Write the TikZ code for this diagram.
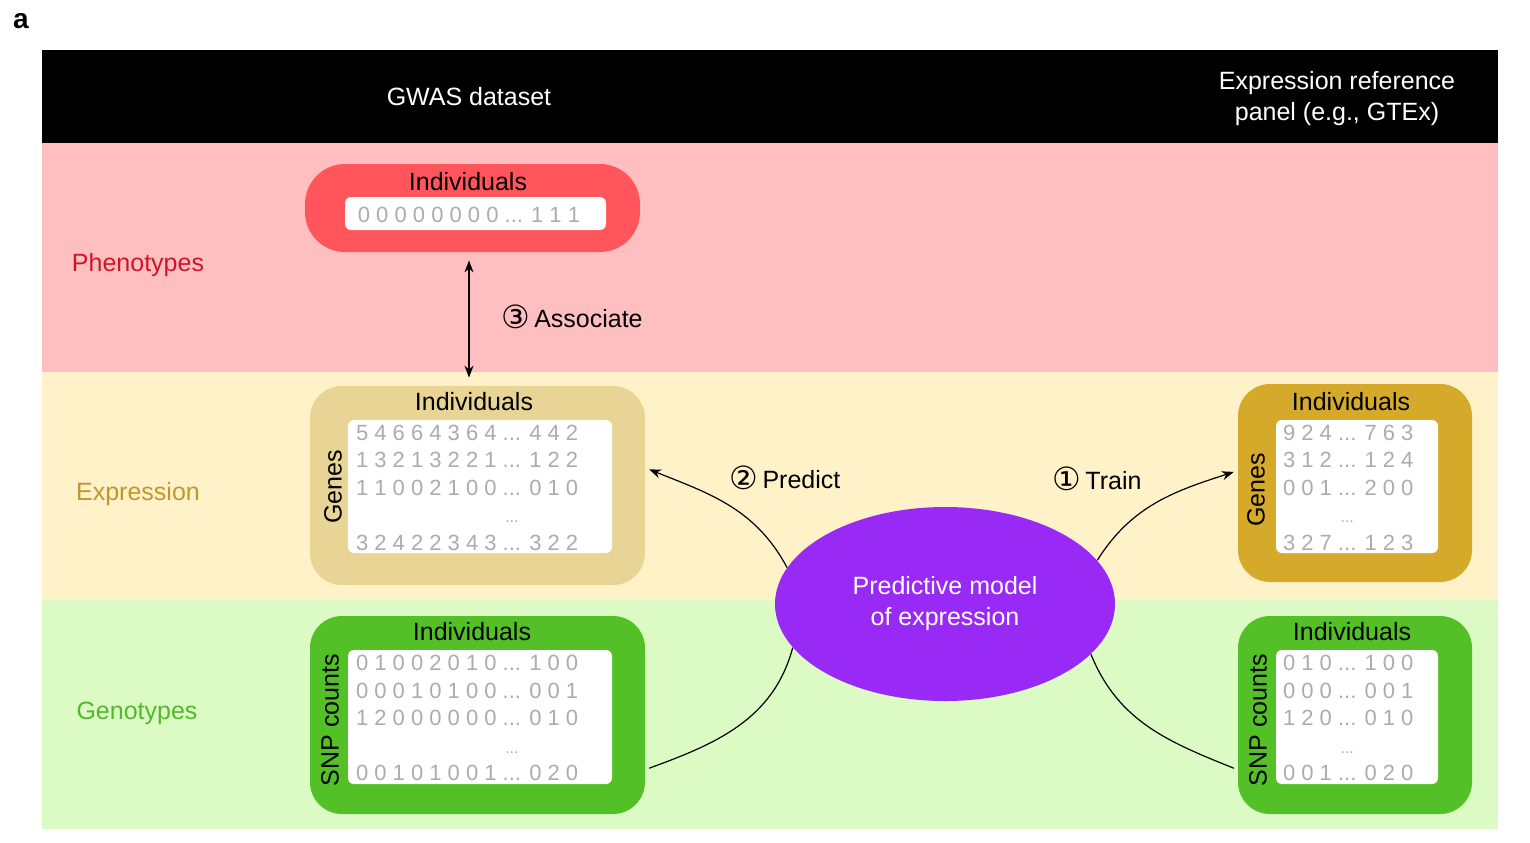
\documentclass[tikz,border=0pt]{standalone}
\usepackage{fontspec}
\setmainfont{Liberation Sans}
\newfontfamily\symfont{DejaVu Sans}
\usetikzlibrary{arrows.meta,positioning,shapes.geometric}
\definecolor{phenoband}{RGB}{255,190,191}
\definecolor{exprband}{RGB}{255,242,201}
\definecolor{genoband}{RGB}{220,251,196}
\definecolor{phenofill}{RGB}{255,85,91}
\definecolor{gexprfill}{RGB}{232,213,150}
\definecolor{rexprfill}{RGB}{213,170,42}
\definecolor{snpfill}{RGB}{84,192,40}
\definecolor{modelfill}{RGB}{153,41,245}
\definecolor{phenotext}{RGB}{205,22,42}
\definecolor{exprtext}{RGB}{195,150,45}
\definecolor{genotext}{RGB}{82,186,42}
\definecolor{cellgray}{RGB}{172,172,172}
\tikzset{
  lbl/.style={font=\fontsize{12.5}{15.5}\selectfont, inner sep=0pt},
  headlbl/.style={lbl, text=white, align=center},
  panelbox/.style={rounded corners=16pt, minimum width=167.5pt,
    minimum height=99.5pt, inner sep=0pt},
  smallpanel/.style={panelbox, minimum width=117pt},
  cellbox/.style={fill=white, rounded corners=3pt, inner sep=0pt,
    minimum width=132pt, minimum height=66.5pt},
  smallcells/.style={cellbox, minimum width=81pt},
  digits/.style={font=\fontsize{11}{13.75}\selectfont, text=cellgray,
    inner sep=0pt, anchor=west, yshift=-1.5pt},
  arrw/.style={-{Stealth[length=6pt,width=4.5pt]}, semithick},
  link/.style={semithick},
}
\newcommand{\dotsrow}{& {\footnotesize...} &}
\newcommand{\stepnum}[1]{{\symfont\fontsize{16}{16}\selectfont\raisebox{-0.5pt}{#1}}}
\begin{document}
\begin{tikzpicture}[x=0.5pt, y=-0.5pt]
  \useasboundingbox (0,0) rectangle (1530,842);

  % Header and bands
  \fill[black] (42,50) rectangle (1498,143);
  \fill[phenoband] (42,143) rectangle (1498,372);
  \fill[exprband] (42,372) rectangle (1498,600);
  \fill[genoband] (42,600) rectangle (1498,829);

  \node[font=\fontsize{14}{16}\selectfont\bfseries, inner sep=0pt] (tag) at (21,21) {a};
  \node[headlbl] (gwas) at (469,97) {GWAS dataset};
  \node[headlbl] (ref) at (1337,99) {Expression reference\\panel (e.g., GTEx)};

  \node[lbl, text=phenotext] (phenolbl) at (138,265) {Phenotypes};
  \node[lbl, text=exprtext] (exprlbl) at (138,494) {Expression};
  \node[lbl, text=genotext] (genolbl) at (137,713) {Genotypes};

  % Phenotypes
  \node[panelbox, fill=phenofill, minimum height=44pt, rounded corners=20pt] (pheno) at (472.5,208) {};
  \node[cellbox, minimum width=130.5pt, minimum height=16.5pt] (phenocells) at (475.5,213.5) {};
  \node[lbl] (phenoind) at (468,182) {Individuals};
  \node[digits, anchor=center, yshift=1pt] (phenodig) at (469,214) {0 0 0 0 0 0 0 0 ... 1 1 1};

  % GWAS expression
  \node[panelbox, fill=gexprfill] (gexpr) at (477.5,485.5) {};
  \node[cellbox] (gexprcells) at (480,486.5) {};
  \node[lbl] (gexprind) at (474,402) {Individuals};
  \node[lbl, rotate=90] (gexprgenes) at (333,487) {Genes};
  \node[digits] (gexprdig) at ([xshift=4pt]gexprcells.west)
    {\begin{tabular}{@{}l@{ }c@{ }l@{}}
      5 4 6 6 4 3 6 4 & ... & 4 4 2\\
      1 3 2 1 3 2 2 1 & ... & 1 2 2\\
      1 1 0 0 2 1 0 0 & ... & 0 1 0\\
      \dotsrow\\
      3 2 4 2 2 3 4 3 & ... & 3 2 2
    \end{tabular}};

  % GWAS genotypes
  \node[panelbox, fill=snpfill, minimum height=99pt] (gsnp) at (477.5,715) {};
  \node[cellbox, minimum height=67pt] (gsnpcells) at (480,717) {};
  \node[lbl] (gsnpind) at (472,632) {Individuals};
  \node[lbl, rotate=90] (gsnpcounts) at (330,720) {SNP counts};
  \node[digits] (gsnpdig) at ([xshift=4pt]gsnpcells.west)
    {\begin{tabular}{@{}l@{ }c@{ }l@{}}
      0 1 0 0 2 0 1 0 & ... & 1 0 0\\
      0 0 0 1 0 1 0 0 & ... & 0 0 1\\
      1 2 0 0 0 0 0 0 & ... & 0 1 0\\
      \dotsrow\\
      0 0 1 0 1 0 0 1 & ... & 0 2 0
    \end{tabular}};

  % Reference expression
  \node[smallpanel, fill=rexprfill, minimum height=99pt] (rexpr) at (1355,483) {};
  \node[smallcells] (rexprcells) at (1357,486.5) {};
  \node[lbl] (rexprind) at (1351,402) {Individuals};
  \node[lbl, rotate=90] (rexprgenes) at (1256,490) {Genes};
  \node[digits] (rexprdig) at ([xshift=3.5pt]rexprcells.west)
    {\begin{tabular}{@{}l@{ }c@{ }l@{}}
      9 2 4 & ... & 7 6 3\\
      3 1 2 & ... & 1 2 4\\
      0 0 1 & ... & 2 0 0\\
      \dotsrow\\
      3 2 7 & ... & 1 2 3
    \end{tabular}};

  % Reference genotypes
  \node[smallpanel, fill=snpfill, minimum height=99pt] (rsnp) at (1355,715) {};
  \node[smallcells, minimum height=67pt] (rsnpcells) at (1357,717) {};
  \node[lbl] (rsnpind) at (1352,632) {Individuals};
  \node[lbl, rotate=90] (rsnpcounts) at (1258,720) {SNP counts};
  \node[digits] (rsnpdig) at ([xshift=3.5pt]rsnpcells.west)
    {\begin{tabular}{@{}l@{ }c@{ }l@{}}
      0 1 0 & ... & 1 0 0\\
      0 0 0 & ... & 0 0 1\\
      1 2 0 & ... & 0 1 0\\
      \dotsrow\\
      0 0 1 & ... & 0 2 0
    \end{tabular}};

  % Model
  \node[ellipse, fill=modelfill, minimum width=170pt, minimum height=97pt,
        lbl, text=white, align=center] (model) at (945,604)
    {Predictive model\\of expression};

  % Connectors
  \draw[{Stealth[length=6pt,width=4.5pt]}-{Stealth[length=6pt,width=4.5pt]}, semithick,
        shorten <=4pt, shorten >=4pt] ([xshift=-1.75pt]pheno.south) -- ([xshift=-1.75pt]pheno.south |- gexpr.north);
  \node[lbl, anchor=west] (assoc) at (501,317) {\stepnum{③}\,Associate};

  \draw[arrw, shorten >=2pt] (model.167) to[out=118, in=-22] (gexpr.6);
  \node[lbl] (predict) at (785,478) {\stepnum{②}\,Predict};
  \draw[arrw, shorten >=2pt] (model.16) to[out=58, in=198] (rexpr.174);
  \node[lbl] (train) at (1097,479) {\stepnum{①}\,Train};

  \draw[link, shorten >=2pt] (model.196) to[out=-105, in=20] (gsnp.-18);
  \draw[link, shorten >=2pt] (model.-19) to[out=-68, in=158] (rsnp.205);
\end{tikzpicture}
\end{document}
